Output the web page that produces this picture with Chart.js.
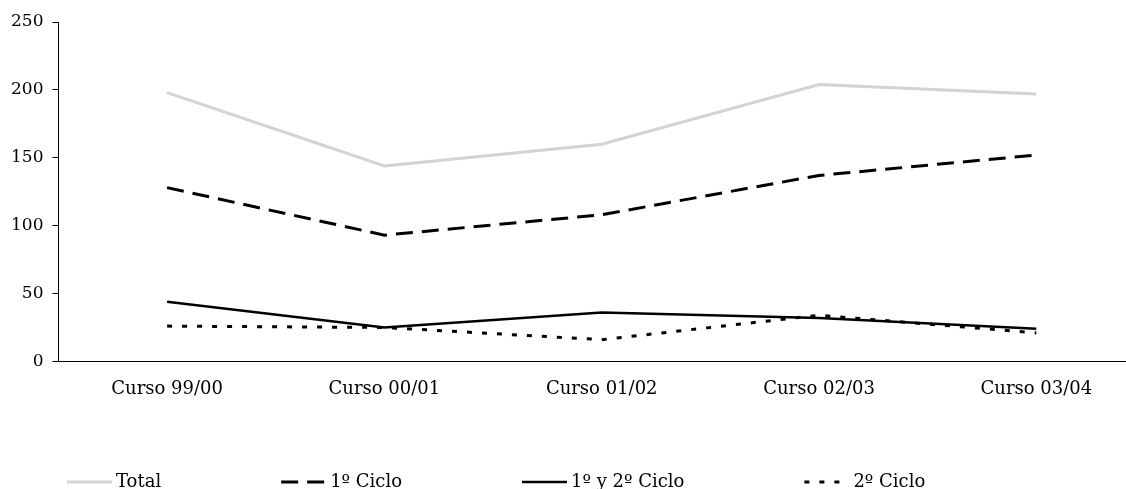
<!DOCTYPE html>
<html>
<head>
<meta charset="utf-8">
<script src="https://cdn.jsdelivr.net/npm/chart.js@4/dist/chart.umd.min.js"></script>
<style>
  html, body { margin: 0; padding: 0; background: #fff; overflow: hidden; }
  #wrap { width: 1126px; height: 489px; overflow: hidden; }
</style>
</head>
<body>
<div id="wrap"><canvas id="cursoChart" width="1147" height="489"></canvas></div>
<script>
const labels = ["Curso 99/00", "Curso 00/01", "Curso 01/02", "Curso 02/03", "Curso 03/04"];
const totalValues = [198, 144, 160, 204, 197];
const ciclo1Values = [128, 93, 108, 137, 152];
const ciclo12Values = [44, 25, 36, 32, 24];
const ciclo2Values = [26, 25, 16, 34, 21];
const yTicks = [0, 50, 100, 150, 200, 250];

const FONT = "'DejaVu Serif', serif";

// legend drawn by hand so the item spacing matches the picture
const bottomLegend = {
    id: "bottomLegend",
    afterDraw(chart) {
        let ctx = chart.ctx;
        let x = 67;
        let y = 482;
        ctx.save();
        ctx.font = "18px " + FONT;
        ctx.textBaseline = "middle";
        ctx.fillStyle = "#000";
        chart.data.datasets.forEach(ds => {
            ctx.beginPath();
            ctx.strokeStyle = ds.borderColor;
            ctx.lineWidth = ds.borderWidth;
            ctx.setLineDash(ds.borderDash || []);
            ctx.moveTo(x, y);
            ctx.lineTo(x + 45, y);
            ctx.stroke();
            ctx.setLineDash([]);
            let textX = x + 49;
            ctx.fillText(ds.label, textX, y);
            x = textX + ctx.measureText(ds.label).width + 120;
        });
        ctx.restore();
    }
};

let ctx = document.getElementById("cursoChart").getContext("2d");
new Chart(ctx, {
    type: "line",
    data: {
        labels: labels,
        datasets: [
            { label: "Total", data: totalValues, borderColor: "#d3d3d3", borderWidth: 3 },
            { label: "1º Ciclo", data: ciclo1Values, borderColor: "#000", borderWidth: 3, borderDash: [17, 9] },
            { label: "1º y 2º Ciclo", data: ciclo12Values, borderColor: "#000", borderWidth: 2.5 },
            { label: "2º Ciclo", data: ciclo2Values, borderColor: "#000", borderWidth: 3, borderDash: [5, 10] }
        ]
    },
    options: {
        responsive: false,
        animation: false,
        elements: {
            point: { radius: 0 },
            line: { tension: 0, borderCapStyle: "butt" }
        },
        layout: { padding: { left: 2, right: 2, top: 22, bottom: 72 } },
        plugins: {
            legend: { display: false },
            tooltip: { enabled: false }
        },
        scales: {
            x: {
                offset: true,
                grid: { display: false, drawTicks: false },
                border: { display: true, color: "#000", width: 1 },
                ticks: { color: "#000", padding: 17, maxRotation: 0, font: { family: FONT, size: 18 } }
            },
            y: {
                min: 0,
                max: 250,
                afterBuildTicks: axis => { axis.ticks = yTicks.map(v => ({ value: v })); },
                grid: { drawOnChartArea: false, tickLength: 6, color: "#000" },
                border: { display: true, color: "#000", width: 1 },
                ticks: { color: "#000", padding: 9, font: { family: FONT, size: 17 } }
            }
        }
    },
    plugins: [bottomLegend]
});
</script>
</body>
</html>
